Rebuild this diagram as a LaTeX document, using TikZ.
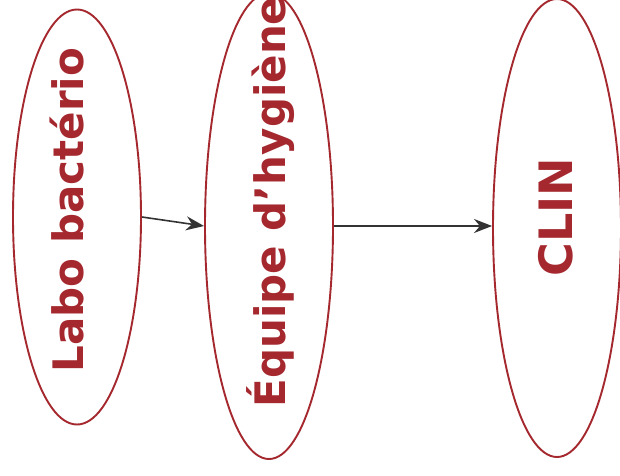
\documentclass[tikz,border=0pt]{standalone}
\usepackage{fontspec}
\setmainfont{DejaVu Sans}
\usetikzlibrary{shapes.geometric,arrows.meta}
\definecolor{ered}{HTML}{A4282E}
\definecolor{agray}{HTML}{333333}
\tikzset{
  oval/.style={ellipse, draw=ered, line width=1.9pt, minimum width=128pt, inner sep=0pt},
  lab/.style={text=ered, font=\bfseries\fontsize{42}{46}\selectfont, rotate=90, inner sep=0pt},
  conn/.style={draw=agray, line width=1.6pt, -{Stealth[length=18pt,width=14pt]}}
}
\begin{document}
\begin{tikzpicture}[x=1pt,y=1pt]
\useasboundingbox (0,0) rectangle (620,475);
\fill[white] (0,0) rectangle (620,475);
\node[oval, minimum height=415pt] (e1) at (77,258) {};
\node[oval, minimum height=466pt] (e2) at (269,249) {};
\node[oval, minimum height=458pt] (e3) at (557,247) {};
\node[lab] (t1) at (67,265) {Labo bactério};
\node[lab] (t2) at (271,273) {Équipe d’hygiène};
\node[lab, font=\bfseries\fontsize{46}{50}\selectfont] (t3) at (556,258) {CLIN};
\draw[conn] (e1.east) -- (e2.west);
\draw[conn] (e2.east) -- (e3.west |- e2.east);
\end{tikzpicture}
\end{document}
